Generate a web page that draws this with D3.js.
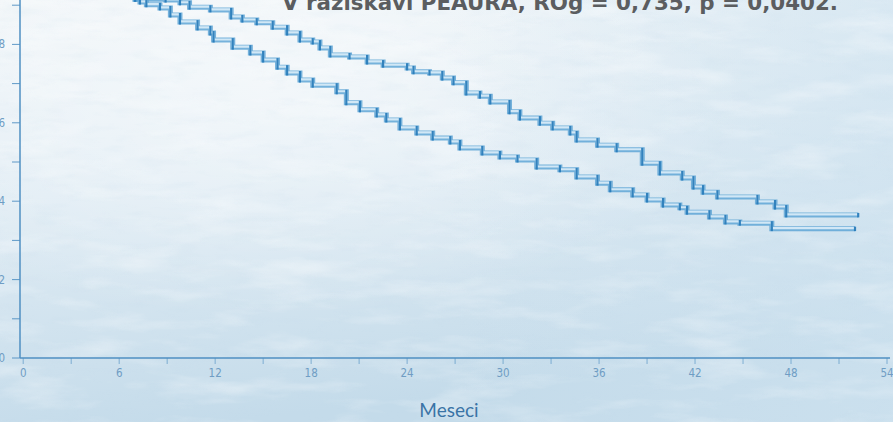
<!DOCTYPE html>
<html><head><meta charset="utf-8">
<script src="https://cdn.jsdelivr.net/npm/d3@7"></script>
<style>html,body{margin:0;padding:0;overflow:hidden;background:#dfebf3}</style>
</head><body>
<svg id="c" width="893" height="422"></svg>
<script>
// ---- data (months, survival probability) ----
const armA_months = [0,1,2,3,4,5,6,7,8.9,9.8,10.4,11.7,13.0,13.7,14.6,15.6,16.5,17.3,18.1,18.55,19.2,20.4,21.5,22.5,24.0,24.4,25.4,26.2,26.9,27.7,28.55,29.2,30.4,31.05,32.3,33.1,34.2,34.6,35.9,37.1,38.7,39.8,41.2,41.9,42.5,43.4,45.9,47.0,47.7,52.2];
const armA_surv   = [1,0.99,0.978,0.963,0.947,0.932,0.922,0.915,0.913,0.906,0.895,0.888,0.870,0.862,0.855,0.844,0.829,0.811,0.806,0.791,0.773,0.768,0.755,0.747,0.740,0.730,0.727,0.714,0.702,0.676,0.668,0.653,0.628,0.612,0.599,0.587,0.574,0.556,0.543,0.531,0.497,0.472,0.459,0.436,0.423,0.411,0.398,0.385,0.365,0.365];
const armB_months = [0,1,2,3,4,5,6,7,7.3,7.7,8.55,9.2,9.8,10.9,11.7,11.9,13.1,14.2,15.0,15.9,16.5,17.3,18.1,19.6,20.2,21.05,22.1,22.7,23.55,24.6,25.6,26.7,27.3,28.7,29.8,30.9,32.1,33.55,34.6,35.9,36.7,38.1,39.0,40.0,41.05,41.5,42.9,43.9,44.8,46.8,52.0];
const armB_surv   = [1,0.99,0.978,0.963,0.947,0.932,0.922,0.915,0.908,0.901,0.893,0.875,0.857,0.842,0.829,0.811,0.793,0.778,0.760,0.742,0.727,0.709,0.696,0.679,0.651,0.633,0.620,0.607,0.587,0.574,0.561,0.551,0.536,0.523,0.513,0.505,0.487,0.480,0.462,0.446,0.429,0.416,0.403,0.390,0.383,0.372,0.360,0.347,0.344,0.330,0.330];
const xTicks = [0,6,12,18,24,30,36,42,48,54];
const xMinor = [3,9,15,21,27,33,39,45,51];
const yTicks = [0,0.2,0.4,0.6,0.8,1.0];
const yMinor = [0.1,0.3,0.5,0.7,0.9];
const titleText = "V raziskavi PEAURA, ROg = 0,735, p = 0,0402.";
const xTitle = "Meseci";

const W = 893, H = 422;
const svg = d3.select("#c");
const defs = svg.append("defs");

// background gradient
const bg = defs.append("linearGradient").attr("id","bg").attr("x1",0).attr("y1",0).attr("x2",0.25).attr("y2",1);
bg.append("stop").attr("offset","0%").attr("stop-color","#f0f5f8");
bg.append("stop").attr("offset","45%").attr("stop-color","#e0ecf4");
bg.append("stop").attr("offset","100%").attr("stop-color","#c4dbea");
const rg = defs.append("radialGradient").attr("id","hl").attr("cx",0.3).attr("cy",0.2).attr("r",0.55);
rg.append("stop").attr("offset","0%").attr("stop-color","#ffffff").attr("stop-opacity",0.5);
rg.append("stop").attr("offset","100%").attr("stop-color","#ffffff").attr("stop-opacity",0);
const tg = defs.append("linearGradient").attr("id","tr").attr("x1",0).attr("y1",0).attr("x2",1).attr("y2",0);
tg.append("stop").attr("offset","50%").attr("stop-color","#cfe3f0").attr("stop-opacity",0);
tg.append("stop").attr("offset","100%").attr("stop-color","#cfe3f0").attr("stop-opacity",0.6);

const f = defs.append("filter").attr("id","noise").attr("x",0).attr("y",0).attr("width","100%").attr("height","100%");
f.append("feTurbulence").attr("type","fractalNoise").attr("baseFrequency","0.012 0.05").attr("numOctaves",4).attr("seed",7).attr("result","n");
f.append("feColorMatrix").attr("in","n").attr("type","matrix")
  .attr("values","0 0 0 0 1  0 0 0 0 1  0 0 0 0 1  1.6 0 0 0 -0.75");
const f2 = defs.append("filter").attr("id","noise2").attr("x",0).attr("y",0).attr("width","100%").attr("height","100%");
f2.append("feTurbulence").attr("type","fractalNoise").attr("baseFrequency","0.03 0.12").attr("numOctaves",3).attr("seed",3).attr("result","n");
f2.append("feColorMatrix").attr("in","n").attr("type","matrix")
  .attr("values","0 0 0 0 0.55  0 0 0 0 0.7  0 0 0 0 0.82  1.4 0 0 0 -0.7");

svg.append("rect").attr("width",W).attr("height",H).attr("fill","url(#bg)");
svg.append("rect").attr("width",W).attr("height",H).attr("fill","url(#hl)");
svg.append("rect").attr("width",W).attr("height",H).attr("fill","url(#tr)");
svg.append("rect").attr("width",W).attr("height",H).attr("filter","url(#noise)").attr("opacity",0.5);
svg.append("rect").attr("width",W).attr("height",H).attr("filter","url(#noise2)").attr("opacity",0.25);

// scales
const x = d3.scaleLinear().domain([-0.2,54]).range([20,887]);
const y = d3.scaleLinear().domain([0,1]).range([358,-34]);
const axisColor = "#4f8fc2";
const labColor = "#6f9dc4";

// x axis
const xa = svg.append("g").attr("transform","translate(0,358)");
xa.append("line").attr("x1",20).attr("x2",890).attr("stroke",axisColor).attr("stroke-width",1.5);
xa.selectAll(".mt").data(xTicks.concat(xMinor)).enter().append("line")
  .attr("x1",d=>x(d)).attr("x2",d=>x(d)).attr("y1",0).attr("y2",6)
  .attr("stroke",axisColor).attr("stroke-width",0.8).attr("opacity",0.8);
xa.selectAll("text").data(xTicks).enter().append("text")
  .attr("x",d=>x(d)).attr("y",19).attr("text-anchor","middle")
  .attr("font-family","'Liberation Sans Narrow','DejaVu Sans Condensed',sans-serif")
  .attr("font-size",11.5).attr("fill",labColor).text(d=>d);

// y axis
const ya = svg.append("g");
ya.append("line").attr("x1",20).attr("x2",20).attr("y1",0).attr("y2",358).attr("stroke",axisColor).attr("stroke-width",1.5);
ya.selectAll(".yt").data(yTicks.concat(yMinor)).enter().append("line")
  .attr("x1",12).attr("x2",20).attr("y1",d=>y(d)).attr("y2",d=>y(d))
  .attr("stroke",axisColor).attr("stroke-width",0.9);
ya.selectAll("text").data(yTicks).enter().append("text")
  .attr("x",5).attr("y",d=>y(d)+4).attr("text-anchor","end")
  .attr("font-family","'Liberation Sans Narrow','DejaVu Sans Condensed',sans-serif")
  .attr("font-size",11.5).attr("fill",labColor)
  .text(d=>d===0?"0":d3.format(".1f")(d).replace(".",","));

// curves
function pts(ms, ss){ return ms.map((m,i)=>[m,ss[i]]); }
const line = d3.line().x(d=>x(d[0])).y(d=>y(d[1])).curve(d3.curveStepAfter);
const arms = [pts(armA_months,armA_surv), pts(armB_months,armB_surv)];
const cg = svg.append("g");
arms.forEach(a=>{
  cg.append("path").attr("d",line(a)).attr("fill","none").attr("stroke","#5fa6d6").attr("stroke-width",5).attr("opacity",0.85);
  cg.append("path").attr("d",line(a)).attr("fill","none").attr("stroke","#dcedf8").attr("stroke-width",2.2).attr("opacity",0.9)
    .attr("transform","translate(0,-0.6)");
  cg.selectAll(null).data(a.slice(1)).enter().append("line")
    .attr("x1",d=>x(d[0])).attr("x2",d=>x(d[0]))
    .attr("y1",(d,i)=>y(a[i][1])-2).attr("y2",d=>y(d[1])+2.5)
    .attr("stroke","#2a7dbb").attr("stroke-width",2.2).attr("opacity",0.95);
});

// title
svg.append("text").attr("x",282).attr("y",10)
  .attr("font-family","'Liberation Sans Narrow','DejaVu Sans Condensed',sans-serif")
  .attr("font-weight","bold").attr("font-size",22).attr("fill","#5b5d60")
  .attr("textLength",556).attr("lengthAdjust","spacingAndGlyphs").text(titleText);

// x title
svg.append("text").attr("x",449).attr("y",417).attr("text-anchor","middle")
  .attr("font-family","Lato,'Open Sans',sans-serif").attr("font-size",19).attr("fill","#3a74a6")
  .text(xTitle);
</script>
</body></html>
